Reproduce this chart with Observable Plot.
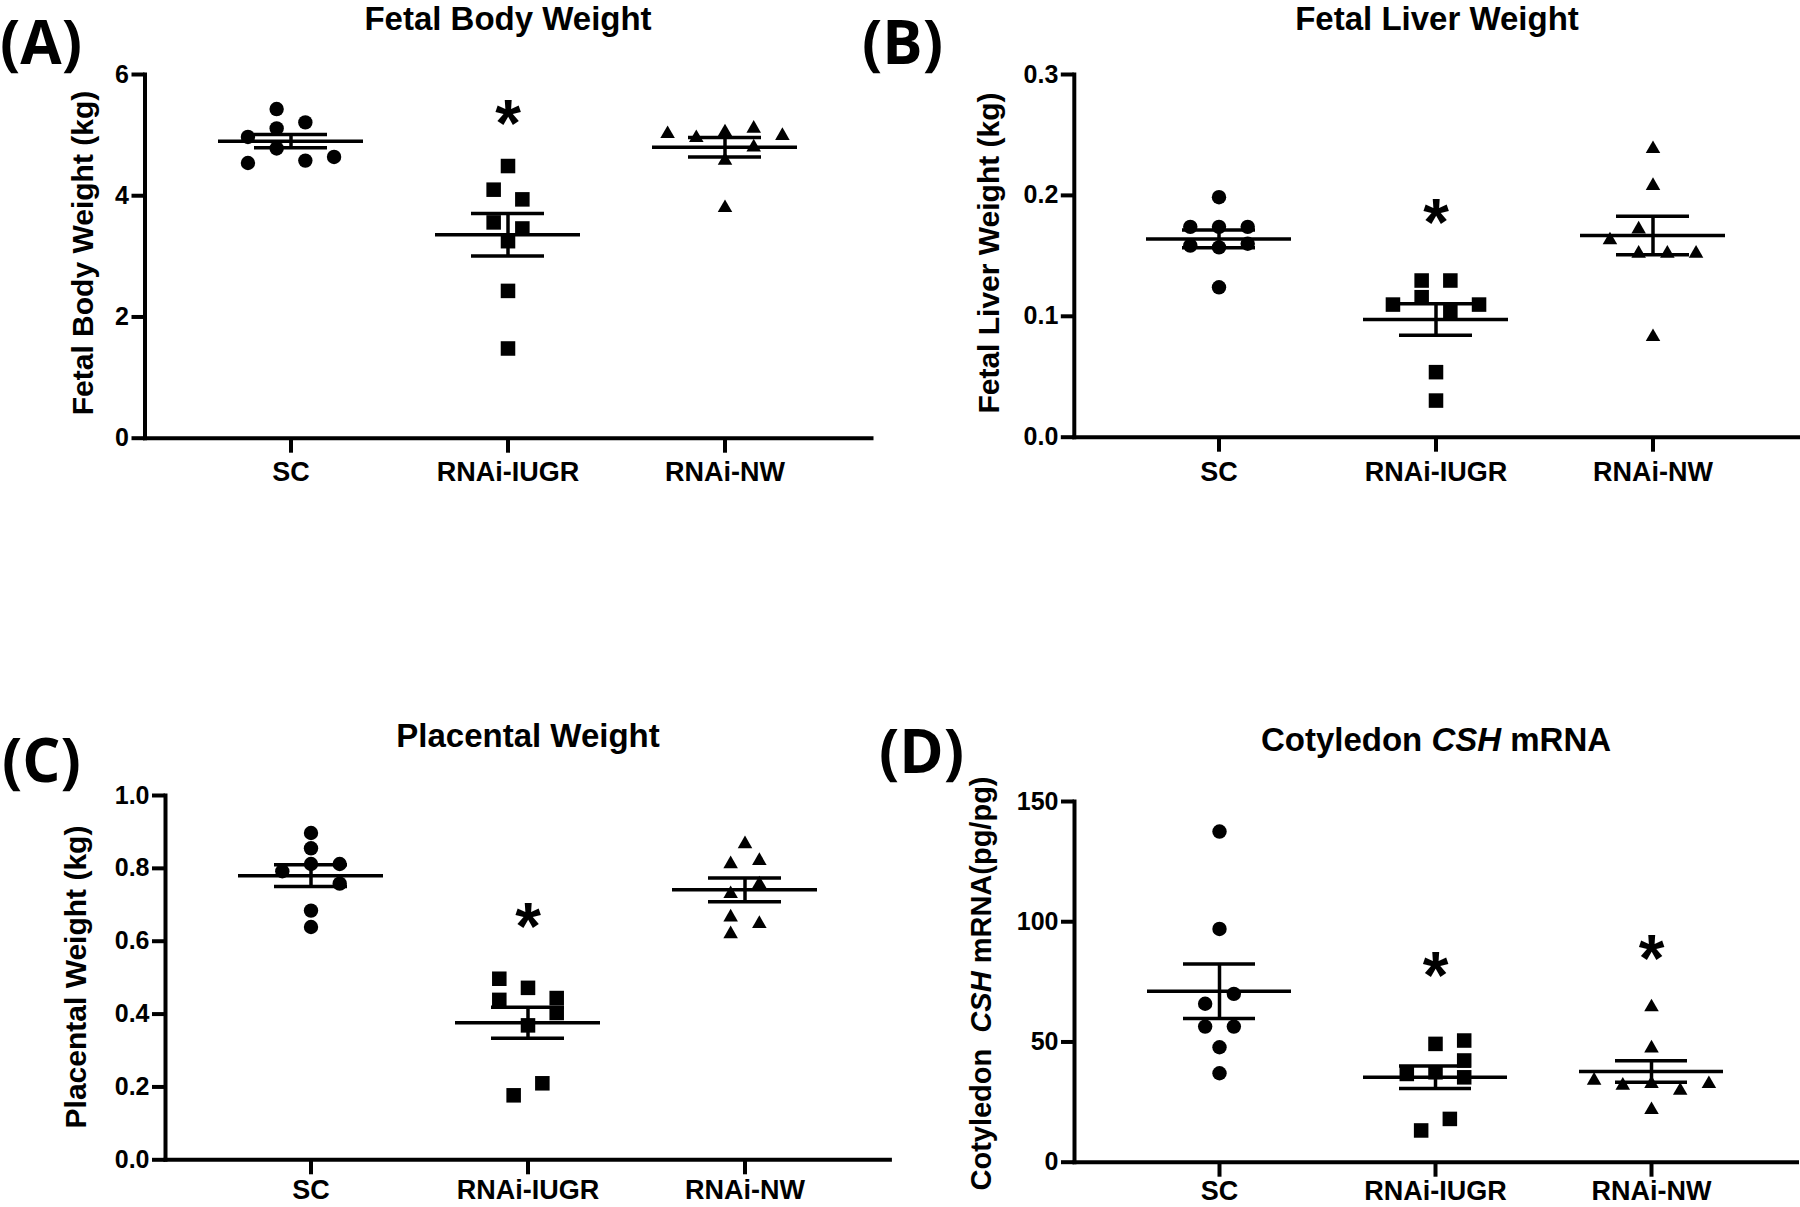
<!DOCTYPE html>
<html>
<head>
<meta charset="utf-8">
<script src="https://cdn.jsdelivr.net/npm/d3@7"></script>
<script src="https://cdn.jsdelivr.net/npm/@observablehq/plot@0.6"></script>
<style>
  body { margin: 0; background: #fff; }
  #root { position: relative; width: 1800px; height: 1207px; overflow: hidden; background: #fff;
          font-family: "Liberation Sans", Arial, sans-serif; font-weight: bold; color: #000; }
  .abs { position: absolute; white-space: nowrap; line-height: 1; }
  .panel-label { font-family: "Open Sans", sans-serif; font-weight: 700; font-size: 60px; }
  .title { font-size: 33px; transform: translateX(-50%); }
  .ylab { font-size: 30px; width: 600px; text-align: center; transform: rotate(-90deg); }
</style>
</head>
<body>
<div id="root"></div>
<script>
const groups = ["SC", "RNAi-IUGR", "RNAi-NW"];
const symbols = ["circle", "square", "triangle"];

// (A) Fetal body weight (kg)
const bodySC = [5.43, 5.21, 5.11, 4.97, 4.78, 4.54, 4.58, 4.64];
const bodySCcol = [-0.5, 0.5, -0.5, -1.5, -0.5, -1.5, 0.5, 1.5];
const bodyIUGR = [4.49, 4.10, 3.94, 3.56, 3.46, 3.25, 2.43, 1.48];
const bodyIUGRcol = [0, -0.5, 0.5, -0.5, 0.5, 0, 0, 0];
const bodyNW = [5.02, 4.955, 5.05, 5.11, 4.99, 4.80, 4.58, 3.80];
const bodyNWcol = [-2, -1, 0, 1, 2, 1, 0, 0];
const bodyMean = [4.90, 3.355, 4.80];
const bodySEM = [0.11, 0.35, 0.16];
const bodyStar = [null, 5.43, null];
const bodyTicks = [0, 2, 4, 6];

// (B) Fetal liver weight (kg)
const liverSC = [0.1985, 0.174, 0.174, 0.174, 0.1585, 0.157, 0.160, 0.124];
const liverSCcol = [0, -1, 0, 1, -1, 0, 1, 0];
const liverIUGR = [0.1296, 0.1296, 0.1097, 0.1158, 0.1097, 0.1034, 0.0538, 0.0303];
const liverIUGRcol = [-0.5, 0.5, -1.5, -0.5, 1.5, 0.5, 0, 0];
const liverNW = [0.2385, 0.208, 0.172, 0.163, 0.152, 0.152, 0.152, 0.083];
const liverNWcol = [0, 0, -0.5, -1.5, -0.5, 0.5, 1.5, 0];
const liverMean = [0.164, 0.0973, 0.1668];
const liverSEM = [0.0073, 0.013, 0.0159];
const liverStar = [null, 0.19, null];
const liverTicks = [0, 0.1, 0.2, 0.3];

// (C) Placental weight (kg)
const placSC = [0.897, 0.855, 0.792, 0.812, 0.812, 0.758, 0.684, 0.639];
const placSCcol = [0, 0, -1, 0, 1, 1, 0, 0];
const placIUGR = [0.497, 0.472, 0.439, 0.444, 0.403, 0.369, 0.210, 0.177];
const placIUGRcol = [-1, 0, -1, 1, 1, 0, 0.5, -0.5];
const placNW = [0.867, 0.812, 0.821, 0.757, 0.730, 0.666, 0.648, 0.620];
const placNWcol = [0, -0.5, 0.5, 0.5, -0.5, -0.5, 0.5, -0.5];
const placMean = [0.780, 0.376, 0.741];
const placSEM = [0.030, 0.0425, 0.0325];
const placStar = [null, 0.68, null];
const placTicks = [0, 0.2, 0.4, 0.6, 0.8, 1.0];

// (D) Cotyledon CSH mRNA (pg/pg)
const cshSC = [137.5, 97.0, 70.0, 65.9, 56.4, 56.4, 47.8, 37.0];
const cshSCcol = [0, 0, 0.5, -0.5, -0.5, 0.5, 0, 0];
const cshIUGR = [49.2, 50.6, 42.3, 36.7, 37.4, 35.3, 18.0, 13.2];
const cshIUGRcol = [0, 1, 1, -1, 0, 1, 0.5, -0.5];
const cshNW = [64.5, 47.4, 34.0, 31.9, 32.6, 29.8, 32.6, 21.8];
const cshNWcol = [0, 0, -2, -1, 0, 1, 2, 0];
const cshMean = [71.1, 35.3, 37.7];
const cshSEM = [11.3, 4.7, 4.5];
const cshStar = [null, 83.9, 90.8];
const cshTicks = [0, 50, 100, 150];

const root = document.getElementById("root");
const COL = 28.7;             // horizontal spacing of scatter columns (px)
const LW = 3.5;               // error bar / mean line width
const AW = 4;                 // axis line width
const radius = {circle: 7.2, square: 8.2, triangle: 5.4};

function panel(cfg) {
  const {values, cols, mean, sem, star, ticks, fmt, left, top, width, height, margins, tickPad} = cfg;
  const rows = groups.flatMap((g, i) => values[i].map((v, j) => ({group: g, value: v, col: cols[i][j]})));
  const stats = groups.map((g, i) => ({group: g, mean: mean[i], sem: sem[i], star: star[i]}));
  const dotMarks = [];
  for (let i = 0; i < groups.length; i++) {
    for (const c of new Set(cols[i])) {
      dotMarks.push(Plot.dot(rows.filter(d => d.group === groups[i] && d.col === c), {
        x: "group", y: "value", dx: c * COL, symbol: symbols[i], r: radius[symbols[i]], fill: "black", stroke: "none"
      }));
    }
  }
  const svg = Plot.plot({
    width, height,
    marginLeft: margins[0], marginRight: margins[1], marginTop: margins[2], marginBottom: margins[3],
    style: {fontFamily: '"Liberation Sans", Arial, sans-serif', fontWeight: "bold", color: "black", background: "transparent", overflow: "visible"},
    x: {type: "band", domain: groups, padding: 1 / 3, axis: null},
    y: {domain: [0, ticks[ticks.length - 1]], axis: null},
    marks: [
      Plot.axisX({tickSize: 15, tickPadding: tickPad, strokeWidth: AW, fontSize: 27, label: null}),
      Plot.axisY({ticks, tickFormat: fmt, tickSize: 13, tickPadding: 3, strokeWidth: AW, fontSize: 25, label: null}),
      Plot.frame({anchor: "left", strokeWidth: AW}),
      Plot.frame({anchor: "bottom", strokeWidth: AW}),
      ...dotMarks,
      Plot.tickY(stats, {x: "group", y: "mean", strokeWidth: LW}),
      Plot.tickY(stats, {x: "group", y: d => d.mean + d.sem, insetLeft: 36, insetRight: 36, strokeWidth: LW}),
      Plot.tickY(stats, {x: "group", y: d => d.mean - d.sem, insetLeft: 36, insetRight: 36, strokeWidth: LW}),
      Plot.ruleX(stats, {x: "group", y1: d => d.mean - d.sem, y2: d => d.mean + d.sem, strokeWidth: LW}),
      Plot.text(stats.filter(d => d.star != null), {x: "group", y: "star", text: () => "*", fontSize: 66, fontWeight: "bold", dy: 16})
    ]
  });
  svg.style.position = "absolute";
  svg.style.left = left + "px";
  svg.style.top = top + "px";
  root.appendChild(svg);
}

function addText(html, cls, left, top) {
  const d = document.createElement("div");
  d.className = "abs " + cls;
  d.innerHTML = html;
  d.style.left = left + "px";
  d.style.top = top + "px";
  root.appendChild(d);
  return d;
}
function addYLabel(html, baselineX, centerY, fs = 30) {
  const cx = baselineX - 0.3465 * fs;
  const d = addText(html, "ylab", cx - 300, centerY - fs / 2);
  d.style.fontSize = fs + "px";
}

panel({values: [bodySC, bodyIUGR, bodyNW], cols: [bodySCcol, bodyIUGRcol, bodyNWcol], mean: bodyMean, sem: bodySEM, star: bodyStar,
       ticks: bodyTicks, fmt: d3.format("d"), left: 0, top: 0, width: 900, height: 520, margins: [144.5, 29, 74, 82.3], tickPad: 9});
panel({values: [liverSC, liverIUGR, liverNW], cols: [liverSCcol, liverIUGRcol, liverNWcol], mean: liverMean, sem: liverSEM, star: liverStar,
       ticks: liverTicks, fmt: d3.format(".1f"), left: 900, top: 0, width: 900, height: 520, margins: [173.8, 2.2, 74, 83.3], tickPad: 10});
panel({values: [placSC, placIUGR, placNW], cols: [placSCcol, placIUGRcol, placNWcol], mean: placMean, sem: placSEM, star: placStar,
       ticks: placTicks, fmt: d3.format(".1f"), left: 0, top: 700, width: 900, height: 507, margins: [165, 10.6, 95, 47.7], tickPad: 5});
panel({values: [cshSC, cshIUGR, cshNW], cols: [cshSCcol, cshIUGRcol, cshNWcol], mean: cshMean, sem: cshSEM, star: cshStar,
       ticks: cshTicks, fmt: d3.format("d"), left: 900, top: 700, width: 900, height: 507, margins: [174, 3.5, 101, 45.3], tickPad: 3.5});

// titles (centered over the middle group)
addText("Fetal Body Weight", "title", 508, 2);
addText("Fetal Liver Weight", "title", 1437, 2);
addText("Placental Weight", "title", 528, 747 - 0.8465 * 33);
addText("Cotyledon <i>CSH</i> mRNA", "title", 1436, 751 - 0.8465 * 33);

// panel letters
addText("(A)", "panel-label", 0, 11);
addText("(B)", "panel-label", 862, 11);
addText("(C)", "panel-label", 2, 729);
addText("(D)", "panel-label", 879, 720);

// y-axis labels
addYLabel("Fetal Body Weight (kg)", 93, 253);
addYLabel("Fetal Liver Weight (kg)", 999, 253);
addYLabel("Placental Weight (kg)", 86, 977);
addYLabel("Cotyledon&nbsp; <i>CSH</i> mRNA(pg/pg)", 991, 983, 29);
</script>
</body>
</html>
